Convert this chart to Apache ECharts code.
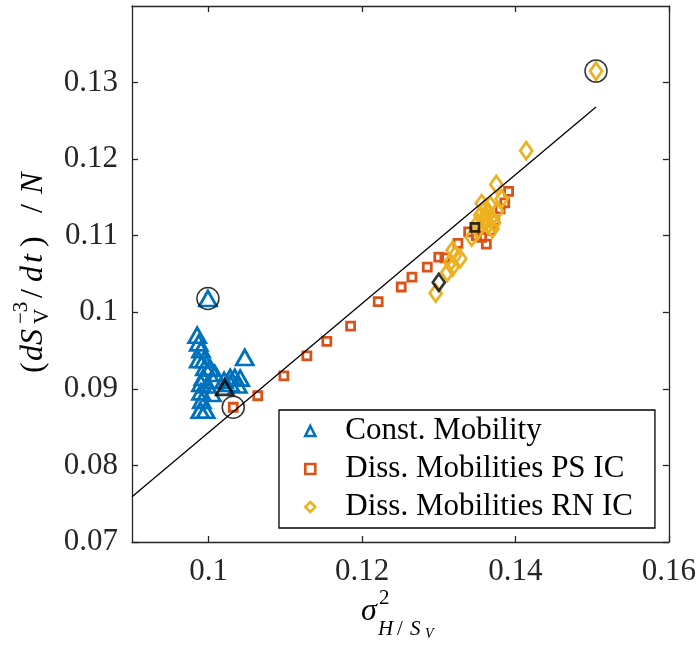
<!DOCTYPE html>
<html>
<head>
<meta charset="utf-8">
<script src="https://cdn.jsdelivr.net/npm/echarts@6/dist/echarts.min.js"></script>
<style>
  html, body { margin: 0; padding: 0; background: #fff; }
  #chart { width: 699px; height: 645px; }
</style>
</head>
<body>
<div id="chart"></div>
<script>
// tick values
const xTicks = [0.1, 0.12, 0.14, 0.16]
const yTicks = [0.07, 0.08, 0.09, 0.1, 0.11, 0.12, 0.13]

// Const. Mobility
const constMob = [
  [0.0985, 0.0970], [0.0987, 0.0960], [0.0990, 0.0951], [0.0987, 0.0938],
  [0.0995, 0.0928], [0.1002, 0.0927], [0.0993, 0.0915], [0.0990, 0.0907],
  [0.1006, 0.0911], [0.1004, 0.0894], [0.0990, 0.0896], [0.0991, 0.0885],
  [0.0989, 0.0872], [0.0996, 0.0872], [0.1047, 0.0941], [0.1028, 0.0915],
  [0.1034, 0.0915], [0.1041, 0.0914], [0.1028, 0.0907], [0.1038, 0.0905],
  [0.0998, 0.0905], [0.1008, 0.0920], [0.1020, 0.0911], [0.0994, 0.0938],
  [0.0999, 0.1018]
]

// Diss. Mobilities PS IC
const dissPS = [
  [0.1032, 0.0876], [0.1064, 0.0891], [0.1098, 0.0917], [0.1128, 0.0943],
  [0.1154, 0.0962], [0.1185, 0.0982], [0.1221, 0.1014], [0.1251, 0.1033],
  [0.1265, 0.1046], [0.1285, 0.1059], [0.1300, 0.1072], [0.1308, 0.1071],
  [0.1325, 0.1090], [0.1339, 0.1105], [0.1356, 0.1098], [0.1373, 0.1120],
  [0.1386, 0.1143], [0.1391, 0.1158], [0.1380, 0.1135], [0.1367, 0.1107],
  [0.1349, 0.1100], [0.1362, 0.1089]
]

// Diss. Mobilities RN IC
const dissRN = [
  [0.1414, 0.1211], [0.1375, 0.1167], [0.1296, 0.1025], [0.1311, 0.1052],
  [0.1315, 0.1065], [0.1318, 0.1059], [0.1321, 0.1074], [0.1328, 0.1070],
  [0.1318, 0.1081], [0.1343, 0.1098], [0.1351, 0.1107], [0.1358, 0.1120],
  [0.1364, 0.1114], [0.1356, 0.1142], [0.1363, 0.1130], [0.1369, 0.1123],
  [0.1376, 0.1132], [0.1382, 0.1148], [0.1354, 0.1127], [0.1361, 0.1136],
  [0.1367, 0.1140], [0.1372, 0.1117], [0.1351, 0.1117], [0.1361, 0.1122],
  [0.1370, 0.1109], [0.1505, 0.1315]
]

// highlighted points
const blackTri = [[0.1021, 0.0902]]
const blackSq = [[0.1347, 0.1111]]
const blackDia = [[0.1300, 0.1039]]
const circled = [[0.0999, 0.1018], [0.1032, 0.0876], [0.1505, 0.1315]]

// fit line
const fitLine = [[0.09, 0.0759], [0.1505, 0.1268]]

const FONT = 'Liberation Serif'
const fmt = v => String(parseFloat(v.toFixed(2)))

const mychart = echarts.init(document.getElementById('chart'))

function txt (x, y, text, size, italic) {
  return {
    type: 'text',
    x: x,
    y: y,
    style: {
      text: text,
      font: (italic ? 'italic ' : '') + size + 'px "' + FONT + '"',
      fill: '#000',
      textAlign: 'left',
      textVerticalAlign: 'middle'
    }
  }
}

const baseAxis = {
  type: 'value',
  axisLine: { show: true, lineStyle: { color: '#262626', width: 1.3 } },
  axisTick: { show: true, inside: true, length: 6, lineStyle: { color: '#262626', width: 1.3 } },
  splitLine: { show: false }
}

const option = {
  animation: false,
  grid: { left: 132, top: 6, right: 30, bottom: 103 },
  xAxis: [
    Object.assign({}, baseAxis, {
      min: 0.09, max: 0.16, position: 'bottom',
      axisTick: Object.assign({}, baseAxis.axisTick, { customValues: xTicks }),
      axisLabel: { customValues: xTicks, formatter: fmt, fontFamily: FONT, fontSize: 31, color: '#262626', margin: 14 }
    }),
    Object.assign({}, baseAxis, {
      min: 0.09, max: 0.16, position: 'top',
      axisTick: Object.assign({}, baseAxis.axisTick, { customValues: xTicks }),
      axisLabel: { show: false }
    })
  ],
  yAxis: [
    Object.assign({}, baseAxis, {
      min: 0.07, max: 0.14, position: 'left',
      axisTick: Object.assign({}, baseAxis.axisTick, { customValues: yTicks }),
      axisLabel: { customValues: yTicks, formatter: fmt, fontFamily: FONT, fontSize: 31, color: '#262626', margin: 14 }
    }),
    Object.assign({}, baseAxis, {
      min: 0.07, max: 0.14, position: 'right',
      axisTick: Object.assign({}, baseAxis.axisTick, { customValues: yTicks }),
      axisLabel: { show: false }
    })
  ],
  legend: {
    data: ['Const. Mobility', 'Diss. Mobilities PS IC', 'Diss. Mobilities RN IC'],
    orient: 'vertical',
    left: 279,
    top: 410,
    padding: [5, 22, 5, 25],
    itemWidth: 10,
    itemHeight: 10,
    itemGap: 6,
    itemStyle: { borderWidth: 2.6 },
    backgroundColor: '#fff',
    borderColor: '#000',
    borderWidth: 1.3,
    textStyle: { fontFamily: FONT, fontSize: 31, color: '#000', lineHeight: 32, padding: [0, 0, 0, 25] },
    z: 10
  },
  series: [
    {
      name: 'Const. Mobility',
      type: 'scatter',
      symbol: 'triangle',
      symbolSize: [17, 15],
      itemStyle: { color: 'rgba(255,255,255,0)', borderColor: '#0072BD', borderWidth: 2.8, opacity: 1 },
      data: constMob
    },
    {
      name: 'Diss. Mobilities PS IC',
      type: 'scatter',
      symbol: 'rect',
      symbolSize: 8,
      itemStyle: { color: 'rgba(255,255,255,0)', borderColor: '#D95319', borderWidth: 2.8, opacity: 1 },
      data: dissPS
    },
    {
      name: 'Diss. Mobilities RN IC',
      type: 'scatter',
      symbol: 'diamond',
      symbolSize: [12, 17],
      itemStyle: { color: 'rgba(255,255,255,0)', borderColor: '#EDB120', borderWidth: 2.8, opacity: 1 },
      data: dissRN
    },
    {
      type: 'scatter', symbol: 'triangle', symbolSize: [17, 15], silent: true,
      itemStyle: { color: 'rgba(255,255,255,0)', borderColor: '#000', borderWidth: 2.8 },
      data: blackTri
    },
    {
      type: 'scatter', symbol: 'rect', symbolSize: 8, silent: true,
      itemStyle: { color: 'rgba(255,255,255,0)', borderColor: '#000', borderWidth: 2.8 },
      data: blackSq
    },
    {
      type: 'scatter', symbol: 'diamond', symbolSize: [12, 17], silent: true,
      itemStyle: { color: 'rgba(255,255,255,0)', borderColor: '#000', borderWidth: 2.8 },
      data: blackDia
    },
    {
      type: 'scatter', symbol: 'circle', symbolSize: 22, silent: true,
      itemStyle: { color: 'rgba(255,255,255,0)', borderColor: '#000', borderWidth: 1.5 },
      data: circled
    },
    {
      type: 'line',
      data: fitLine,
      symbol: 'none',
      silent: true,
      z: 5,
      lineStyle: { color: '#000', width: 1.3 }
    }
  ],
  graphic: [
    // y axis title
    {
      type: 'group',
      x: 34,
      y: 273,
      rotation: Math.PI / 2,
      children: [
        txt(-100, 0, '(', 32, false),
        txt(-88, 0, 'd', 32, true),
        txt(-72, 0, 'S', 32, true),
        txt(-51, -13, '\u22123', 21, false),
        txt(-51, 8, 'V', 21, false),
        txt(-25, 0, '/', 32, false),
        txt(-9, 0, 'd', 32, true),
        txt(10, 0, 't', 32, true),
        txt(26, 0, ')', 32, false),
        txt(60, 0, '/', 32, false),
        txt(79, 0, 'N', 32, true)
      ]
    },
    // x axis title
    {
      type: 'group',
      x: 0,
      y: 0,
      children: [
        txt(361, 612, '\u03c3', 32, true),
        txt(379, 598, '2', 21, false),
        txt(378, 629, 'H', 21, true),
        txt(397, 629, '/', 21, false),
        txt(410, 629, 'S', 21, true),
        txt(425, 634, 'V', 14, true)
      ]
    }
  ]
}

mychart.setOption(option)
</script>
</body>
</html>
